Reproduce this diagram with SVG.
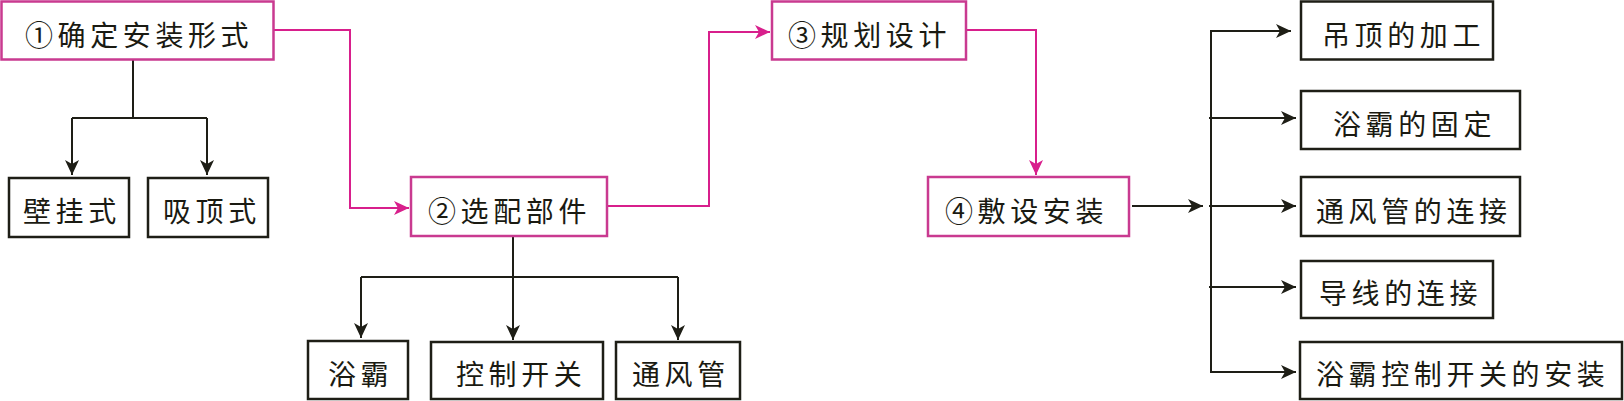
<svg xmlns="http://www.w3.org/2000/svg" width="1624" height="401" viewBox="0 0 1624 401">
<style>
.bg{fill:#fff}
.pk{fill:#fff;stroke:#c93a90;stroke-width:2.5}
.bk{fill:#fff;stroke:#1e1e16;stroke-width:2.5}
.t{font-family:"Noto Sans CJK SC","Noto Sans CJK JP",sans-serif;font-size:28px;letter-spacing:4.6px;fill:#1a1a12}
.lp{fill:none;stroke:#d81f8c;stroke-width:2}
.lb{fill:none;stroke:#1e1e16;stroke-width:2}
</style>
<defs>
<marker id="ap" markerUnits="userSpaceOnUse" markerWidth="16" markerHeight="14" refX="15" refY="7" orient="auto">
<path d="M0,0 L15,7 L0,14 L4,7 z" fill="#d81f8c"/>
</marker>
<marker id="ab" markerUnits="userSpaceOnUse" markerWidth="16" markerHeight="14" refX="15" refY="7" orient="auto">
<path d="M0,0 L15,7 L0,14 L4,7 z" fill="#1e1e16"/>
</marker>
</defs>
<rect class="bg" x="0" y="0" width="1624" height="401"/>
<g id="connectors">
<path class="lp" d="M274,30 H350 V208 H409" marker-end="url(#ap)"/>
<path class="lp" d="M607,206 H709 V32 H770" marker-end="url(#ap)"/>
<path class="lp" d="M966,30 H1036 V175" marker-end="url(#ap)"/>
<path class="lb" d="M133,60 V118 M72,118 H207"/>
<path class="lb" d="M72,118 V175" marker-end="url(#ab)"/>
<path class="lb" d="M207,118 V175" marker-end="url(#ab)"/>
<path class="lb" d="M513,236 V277 M361,277 H678"/>
<path class="lb" d="M361,277 V338" marker-end="url(#ab)"/>
<path class="lb" d="M513,277 V340" marker-end="url(#ab)"/>
<path class="lb" d="M678,277 V340" marker-end="url(#ab)"/>
<path class="lb" d="M1132,206 H1203" marker-end="url(#ab)"/>
<path class="lb" d="M1211,31 V373"/>
<path class="lb" d="M1210,31 H1291" marker-end="url(#ab)"/>
<path class="lb" d="M1209,118 H1296" marker-end="url(#ab)"/>
<path class="lb" d="M1209,206 H1296" marker-end="url(#ab)"/>
<path class="lb" d="M1209,287 H1296" marker-end="url(#ab)"/>
<path class="lb" d="M1210,372 H1296" marker-end="url(#ab)"/>
</g>
<g id="n1"><rect class="pk" x="1.5" y="1.5" width="272" height="58"/><text class="t" x="25" y="46">①确定安装形式</text></g>
<g id="n1a"><rect class="bk" x="9" y="178" width="120" height="59"/><text class="t" x="23" y="222">壁挂式</text></g>
<g id="n1b"><rect class="bk" x="148" y="178" width="120" height="59"/><text class="t" x="163" y="222">吸顶式</text></g>
<g id="n2"><rect class="pk" x="411" y="177" width="196" height="59"/><text class="t" x="428" y="222">②选配部件</text></g>
<g id="n2a"><rect class="bk" x="308" y="341" width="100" height="58"/><text class="t" x="328" y="385">浴霸</text></g>
<g id="n2b"><rect class="bk" x="431" y="342" width="172" height="57"/><text class="t" x="456" y="385">控制开关</text></g>
<g id="n2c"><rect class="bk" x="616" y="342" width="124" height="57"/><text class="t" x="632" y="385">通风管</text></g>
<g id="n3"><rect class="pk" x="772" y="1.5" width="194" height="58"/><text class="t" x="788" y="46">③规划设计</text></g>
<g id="n4"><rect class="pk" x="928" y="177" width="201" height="59"/><text class="t" x="945" y="222">④敷设安装</text></g>
<g id="r1"><rect class="bk" x="1301" y="1.5" width="192" height="58"/><text class="t" x="1322" y="46">吊顶的加工</text></g>
<g id="r2"><rect class="bk" x="1301" y="91" width="219" height="58"/><text class="t" x="1333" y="135">浴霸的固定</text></g>
<g id="r3"><rect class="bk" x="1301" y="177" width="219" height="59"/><text class="t" x="1316" y="222">通风管的连接</text></g>
<g id="r4"><rect class="bk" x="1301" y="261" width="192" height="57"/><text class="t" x="1319" y="304">导线的连接</text></g>
<g id="r5"><rect class="bk" x="1300" y="342" width="322" height="57"/><text class="t" x="1316" y="385">浴霸控制开关的安装</text></g>
</svg>
